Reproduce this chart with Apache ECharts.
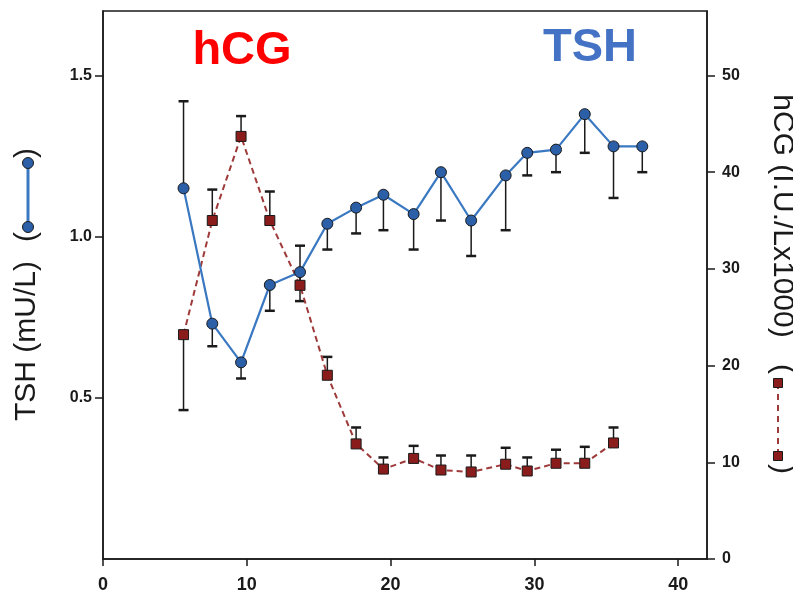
<!DOCTYPE html>
<html>
<head>
<meta charset="utf-8">
<script src="https://cdn.jsdelivr.net/npm/echarts@6/dist/echarts.min.js"></script>
<style>
  html, body { margin: 0; padding: 0; background: #fff; }
  #main { width: 793px; height: 594px; }
</style>
</head>
<body>
<div id="main"></div>
<script>
// gestational weeks (x)
var weeks = [5.6, 7.6, 9.6, 11.6, 13.7, 15.6, 17.6, 19.5, 21.6, 23.5, 25.6, 28.0, 29.5, 31.5, 33.5, 35.5, 37.5];
// TSH mU/L (left axis) and end of its error bar
var tshValues = [1.15, 0.73, 0.61, 0.85, 0.89, 1.04, 1.09, 1.13, 1.07, 1.20, 1.05, 1.19, 1.26, 1.27, 1.38, 1.28, 1.28];
var tshBarEnd = [1.42, 0.66, 0.56, 0.77, 0.80, 0.96, 1.01, 1.02, 0.96, 1.05, 0.94, 1.02, 1.19, 1.20, 1.26, 1.12, 1.20];
// hCG I.U./L x1000 (right axis) and end of its error bar
var hcgValues = [23.2, 35.0, 43.7, 35.0, 28.3, 19.0, 11.9, 9.3, 10.4, 9.2, 9.0, 9.8, 9.1, 9.9, 9.9, 12.0];
var hcgBarEnd = [15.4, 38.2, 45.8, 38.0, 32.4, 20.9, 13.6, 10.5, 11.7, 10.7, 10.7, 11.5, 10.5, 11.3, 11.6, 13.6];
var xTicks = [0, 10, 20, 30, 40];

var FONT = '"Liberation Sans", Arial, sans-serif';

function pairs(xs, ys) {
    var out = [];
    for (var i = 0; i < ys.length; i++) out.push([xs[i], ys[i]]);
    return out;
}
function triples(xs, ys, es) {
    var out = [];
    for (var i = 0; i < ys.length; i++) out.push([xs[i], ys[i], es[i]]);
    return out;
}

function errorBar(params, api) {
    var p = api.coord([api.value(0), api.value(1)]);
    var e = api.coord([api.value(0), api.value(2)]);
    return {
        type: 'group',
        children: [
            { type: 'line', shape: { x1: p[0], y1: p[1], x2: e[0], y2: e[1] }, style: { stroke: '#1a1a1a', lineWidth: 1.5 } },
            { type: 'line', shape: { x1: e[0] - 5, y1: e[1], x2: e[0] + 5, y2: e[1] }, style: { stroke: '#1a1a1a', lineWidth: 2.5 } }
        ]
    };
}

function rotText(txt, x, y, rot, size, color, weight) {
    return {
        type: 'text', x: x, y: y, rotation: rot, z: 10,
        style: {
            text: txt, fill: color, fontSize: size, fontFamily: FONT, fontWeight: weight || 'normal',
            align: 'center', verticalAlign: 'middle', textAlign: 'center', textVerticalAlign: 'middle'
        }
    };
}

var chart = echarts.init(document.getElementById('main'));

var option = {
    animation: false,
    backgroundColor: '#fff',
    grid: { left: 103, right: 86, top: 11, bottom: 35, show: true, borderColor: '#1a1a1a', borderWidth: 1.5, containLabel: false },
    xAxis: {
        type: 'value', min: 0, max: 42, interval: 10,
        axisLine: { lineStyle: { color: '#1a1a1a', width: 1.5 } },
        axisTick: { length: 7, lineStyle: { color: '#1a1a1a', width: 1.5 } },
        axisLabel: {
            color: '#1a1a1a', fontSize: 18, fontWeight: 'bold', fontFamily: FONT, margin: 17,
            showMaxLabel: false,
            formatter: function (v) { return xTicks.indexOf(v) >= 0 ? String(v) : ''; }
        },
        splitLine: { show: false }
    },
    yAxis: [
        {
            type: 'value', min: 0, max: 1.7, interval: 0.5, position: 'left',
            axisLine: { show: true, lineStyle: { color: '#1a1a1a', width: 1.5 } },
            axisTick: { show: true, length: 8, lineStyle: { color: '#1a1a1a', width: 1.5 } },
            axisLabel: {
                color: '#1a1a1a', fontSize: 16, fontWeight: 'bold', fontFamily: FONT, margin: 11,
                showMinLabel: false, showMaxLabel: false,
                formatter: function (v) { return v.toFixed(1); }
            },
            splitLine: { show: false }
        },
        {
            type: 'value', min: 0, max: 1.7 / 1.5 * 50, interval: 10, position: 'right',
            axisLine: { show: true, lineStyle: { color: '#1a1a1a', width: 1.5 } },
            axisTick: { show: true, length: 8, lineStyle: { color: '#1a1a1a', width: 1.5 } },
            axisLabel: {
                color: '#1a1a1a', fontSize: 16, fontWeight: 'bold', fontFamily: FONT, margin: 15,
                showMaxLabel: false
            },
            splitLine: { show: false }
        }
    ],
    series: [
        {
            name: 'TSH err', type: 'custom', yAxisIndex: 0, z: 1,
            renderItem: errorBar, data: triples(weeks, tshValues, tshBarEnd)
        },
        {
            name: 'hCG err', type: 'custom', yAxisIndex: 1, z: 1,
            renderItem: errorBar, data: triples(weeks, hcgValues, hcgBarEnd)
        },
        {
            name: 'hCG', type: 'line', yAxisIndex: 1, z: 3,
            data: pairs(weeks, hcgValues),
            symbol: 'rect', symbolSize: 10,
            lineStyle: { color: '#9e3a3a', width: 2, type: [6, 4] },
            itemStyle: { color: '#8b1c1c', borderColor: '#1a1a1a', borderWidth: 1 }
        },
        {
            name: 'TSH', type: 'line', yAxisIndex: 0, z: 4,
            data: pairs(weeks, tshValues),
            symbol: 'circle', symbolSize: 11,
            lineStyle: { color: '#3a78c2', width: 2.2 },
            itemStyle: { color: '#2b5fa8', borderColor: '#1a1a1a', borderWidth: 1 }
        }
    ],
    graphic: [
        rotText('hCG', 242, 51, 0, 47, '#ff0000', 'bold'),
        rotText('TSH', 590, 48, 0, 47, '#4472c4', 'bold'),
        // left axis name + legend key
        rotText('TSH (mU/L)', 27, 341, Math.PI / 2, 30, '#1a1a1a'),
        rotText('(', 27, 237, Math.PI / 2, 30, '#1a1a1a'),
        rotText(')', 27, 153, Math.PI / 2, 30, '#1a1a1a'),
        { type: 'line', shape: { x1: 28, y1: 163, x2: 28, y2: 227 }, style: { stroke: '#3a78c2', lineWidth: 3 }, z: 9 },
        { type: 'circle', shape: { cx: 28, cy: 163, r: 5.5 }, style: { fill: '#2b5fa8', stroke: '#1a1a1a', lineWidth: 1 }, z: 10 },
        { type: 'circle', shape: { cx: 28, cy: 227, r: 5.5 }, style: { fill: '#2b5fa8', stroke: '#1a1a1a', lineWidth: 1 }, z: 10 },
        // right axis name + legend key
        rotText('hCG (I.U./Lx1000)', 782, 216, -Math.PI / 2, 30, '#1a1a1a'),
        rotText('(', 782, 369, -Math.PI / 2, 30, '#1a1a1a'),
        rotText(')', 782, 469, -Math.PI / 2, 30, '#1a1a1a'),
        { type: 'line', shape: { x1: 778, y1: 383, x2: 778, y2: 456 }, style: { stroke: '#9e3a3a', lineWidth: 2, lineDash: [6, 5] }, z: 9 },
        { type: 'rect', shape: { x: 773.5, y: 378.5, width: 9, height: 9 }, style: { fill: '#8b1c1c', stroke: '#1a1a1a', lineWidth: 1 }, z: 10 },
        { type: 'rect', shape: { x: 773.5, y: 451.5, width: 9, height: 9 }, style: { fill: '#8b1c1c', stroke: '#1a1a1a', lineWidth: 1 }, z: 10 }
    ]
};

chart.setOption(option);
</script>
</body>
</html>
